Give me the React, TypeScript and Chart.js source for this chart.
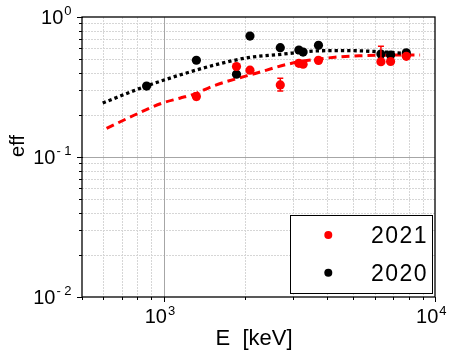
import React, { useEffect, useRef } from 'react';
import { Chart, registerables } from 'chart.js';

Chart.register(...registerables);

// ---- data ----
const energy2020 = [865, 1320, 1855, 2080, 2690, 3150, 3265, 3720, 6320, 6860, 7840];
const eff2020 = [0.321, 0.491, 0.39, 0.731, 0.604, 0.581, 0.562, 0.628, 0.544, 0.535, 0.555];

const energy2021 = [1320, 1855, 2080, 2690, 3150, 3265, 3720, 6320, 6860, 7840];
const eff2021 = [0.27, 0.443, 0.417, 0.327, 0.467, 0.46, 0.49, 0.479, 0.481, 0.524];
const err2021Up = [0.016, 0, 0, 0.038, 0, 0, 0, 0.14, 0, 0];
const err2021Down = [0.013, 0, 0, 0.031, 0, 0, 0, 0.02, 0, 0];

const fitEnergy2020 = [596, 851, 1146, 1542, 2042, 2723, 3604, 4652, 6010, 7943];
const fitEff2020 = [0.243, 0.318, 0.385, 0.454, 0.512, 0.542, 0.572, 0.576, 0.567, 0.549];

const fitEnergy2021 = [616, 781, 984, 1146, 1320, 1500, 2222, 2965, 4276, 5420, 6821, 8810];
const fitEff2021 = [0.16, 0.1995, 0.242, 0.263, 0.285, 0.318, 0.4, 0.467, 0.516, 0.529, 0.534, 0.535];

const xMinorTicks = [500, 600, 700, 800, 900, 2000, 3000, 4000, 5000, 6000, 7000, 8000, 9000];
const xMajorTicks = [1000, 10000];
const xMajorExp = ['3', '4'];
const yMinorTicks = [0.02, 0.03, 0.04, 0.05, 0.06, 0.07, 0.08, 0.09, 0.2, 0.3, 0.4, 0.5, 0.6, 0.7, 0.8, 0.9];
const yMajorTicks = [1, 0.1, 0.01];
const yMajorExp = ['0', '-1', '-2'];

const legendLabels = ['2021', '2020'];
const legendColors = ['#ff0000', '#000000'];

const FONT = '"Liberation Sans", Arial, sans-serif';

function drawPow(ctx: CanvasRenderingContext2D, exp: string, x: number, baseline: number, align: 'center' | 'right', expSpacing: number, raise: number) {
  ctx.font = `20px ${FONT}`;
  const wb = ctx.measureText('10').width;
  ctx.font = `13px ${FONT}`;
  const chars = exp.split('');
  const cw = chars.map((c) => ctx.measureText(c).width);
  const we = cw.reduce((s, w) => s + w, 0) + expSpacing * (chars.length - 1);
  const gap = 1;
  const total = wb + gap + we;
  const sx = align === 'center' ? x - total / 2 : x - total;
  ctx.textAlign = 'left';
  ctx.textBaseline = 'alphabetic';
  ctx.fillStyle = '#000';
  ctx.font = `20px ${FONT}`;
  ctx.fillText('10', sx, baseline);
  ctx.font = `13px ${FONT}`;
  let ex = sx + wb + gap;
  chars.forEach((c, i) => {
    ctx.fillText(c, ex, baseline - raise);
    ex += cw[i] + expSpacing;
  });
}

const decorPlugin = {
  id: 'decor',
  beforeDatasetsDraw(chart: any) {
    const { ctx, chartArea: a, scales } = chart;
    const x = scales.x;
    const y = scales.y;
    ctx.save();
    ctx.lineWidth = 1;
    ctx.strokeStyle = '#d6d6d6';
    ctx.setLineDash([2, 1]);
    xMinorTicks.forEach((v) => {
      if (v <= 500) return;
      const px = Math.round(x.getPixelForValue(v)) + 0.5;
      ctx.beginPath();
      ctx.moveTo(px, a.top);
      ctx.lineTo(px, a.bottom);
      ctx.stroke();
    });
    yMinorTicks.forEach((v) => {
      const py = Math.round(y.getPixelForValue(v)) + 0.5;
      ctx.beginPath();
      ctx.moveTo(a.left, py);
      ctx.lineTo(a.right, py);
      ctx.stroke();
    });
    ctx.setLineDash([]);
    ctx.strokeStyle = '#a6a6a6';
    [1000].forEach((v) => {
      const px = Math.round(x.getPixelForValue(v)) + 0.5;
      ctx.beginPath();
      ctx.moveTo(px, a.top);
      ctx.lineTo(px, a.bottom);
      ctx.stroke();
    });
    [0.1].forEach((v) => {
      const py = Math.round(y.getPixelForValue(v)) + 0.5;
      ctx.beginPath();
      ctx.moveTo(a.left, py);
      ctx.lineTo(a.right, py);
      ctx.stroke();
    });
    ctx.restore();
  },
  afterDatasetsDraw(chart: any) {
    const { ctx, scales } = chart;
    const x = scales.x;
    const y = scales.y;
    ctx.save();
    ctx.strokeStyle = '#ff0000';
    ctx.lineWidth = 1.5;
    energy2021.forEach((e, i) => {
      const up = err2021Up[i];
      const dn = err2021Down[i];
      if (!up && !dn) return;
      const px = x.getPixelForValue(e);
      const pt = y.getPixelForValue(eff2021[i] + up);
      const pb = y.getPixelForValue(eff2021[i] - dn);
      ctx.beginPath();
      ctx.moveTo(px, pt);
      ctx.lineTo(px, pb);
      ctx.moveTo(px - 3, pt);
      ctx.lineTo(px + 3, pt);
      ctx.moveTo(px - 3, pb);
      ctx.lineTo(px + 3, pb);
      ctx.stroke();
    });
    ctx.restore();
  },
  afterDraw(chart: any) {
    const { ctx, chartArea: a, scales } = chart;
    const x = scales.x;
    const y = scales.y;
    ctx.save();
    // frame
    ctx.strokeStyle = '#000';
    ctx.lineWidth = 1.3;
    ctx.strokeRect(a.left, a.top, a.right - a.left, a.bottom - a.top);
    // ticks
    ctx.lineWidth = 1;
    ctx.strokeStyle = '#000';
    xMinorTicks.forEach((v) => {
      const px = Math.round(x.getPixelForValue(v)) + 0.5;
      ctx.beginPath();
      ctx.moveTo(px, a.bottom);
      ctx.lineTo(px, a.bottom + 3);
      ctx.stroke();
    });
    xMajorTicks.forEach((v) => {
      const px = Math.round(x.getPixelForValue(v)) + 0.5;
      ctx.beginPath();
      ctx.moveTo(px, a.bottom);
      ctx.lineTo(px, a.bottom + 5);
      ctx.stroke();
    });
    yMinorTicks.forEach((v) => {
      const py = Math.round(y.getPixelForValue(v)) + 0.5;
      ctx.beginPath();
      ctx.moveTo(a.left, py);
      ctx.lineTo(a.left - 3, py);
      ctx.stroke();
    });
    yMajorTicks.forEach((v) => {
      const py = Math.round(y.getPixelForValue(v)) + 0.5;
      ctx.beginPath();
      ctx.moveTo(a.left + 1, py);
      ctx.lineTo(a.left - 5, py);
      ctx.stroke();
    });
    // tick labels
    xMajorTicks.forEach((v, i) => {
      const px = x.getPixelForValue(v);
      drawPow(ctx, xMajorExp[i], px - 3.7, a.bottom + 26, 'center', 1, 8);
    });
    yMajorTicks.forEach((v, i) => {
      const py = y.getPixelForValue(v);
      drawPow(ctx, yMajorExp[i], a.left - 10.5, py + 7.2, 'right', 3.5, 9);
    });
    // axis titles
    ctx.fillStyle = '#000';
    ctx.font = `22px ${FONT}`;
    ctx.textAlign = 'center';
    ctx.textBaseline = 'alphabetic';
    ctx.fillText('E  [keV]', 254, 345);
    ctx.save();
    ctx.translate(24, 146);
    ctx.rotate(-Math.PI / 2);
    ctx.font = `20px ${FONT}`;
    ctx.fillText('eff', 0, 0);
    ctx.restore();
    // legend
    const bx = a.right - 145;
    const by = a.bottom - 82;
    const bw = 142;
    const bh = 78;
    ctx.fillStyle = '#fff';
    ctx.fillRect(bx, by, bw, bh);
    ctx.strokeStyle = '#000';
    ctx.lineWidth = 1;
    ctx.strokeRect(bx + 0.5, by + 0.5, bw, bh);
    legendLabels.forEach((lab, i) => {
      const cy = by + 20 + i * 37.7;
      ctx.fillStyle = legendColors[i];
      ctx.beginPath();
      ctx.arc(bx + 38.3, cy, 4, 0, Math.PI * 2);
      ctx.fill();
      ctx.fillStyle = '#000';
      ctx.font = `23px ${FONT}`;
      (ctx as any).letterSpacing = '1.5px';
      ctx.textAlign = 'left';
      ctx.fillText(lab, bx + 81, cy + 8);
      (ctx as any).letterSpacing = '0px';
    });
    ctx.restore();
  },
};

export default function App() {
  const ref = useRef<HTMLCanvasElement>(null);
  useEffect(() => {
    const canvas = ref.current;
    if (!canvas) return;
    const chart = new Chart(canvas, {
      type: 'scatter',
      data: {
        datasets: [
          {
            label: '2021',
            data: energy2021.map((e, i) => ({ x: e, y: eff2021[i] })),
            backgroundColor: '#ff0000',
            borderColor: '#ff0000',
            borderWidth: 0,
            pointRadius: 4.6,
            pointHoverRadius: 4.6,
          },
          {
            label: '2020',
            data: energy2020.map((e, i) => ({ x: e, y: eff2020[i] })),
            backgroundColor: '#000000',
            borderColor: '#000000',
            borderWidth: 0,
            pointRadius: 4.6,
            pointHoverRadius: 4.6,
          },
          {
            label: 'fit 2020',
            data: fitEnergy2020.map((e, i) => ({ x: e, y: fitEff2020[i] })),
            showLine: true,
            borderColor: '#000000',
            borderWidth: 3.3,
            borderDash: [3.3, 3],
            borderCapStyle: 'butt',
            pointRadius: 0,
            cubicInterpolationMode: 'monotone',
            fill: false,
          },
          {
            label: 'fit 2021',
            data: fitEnergy2021.map((e, i) => ({ x: e, y: fitEff2021[i] })),
            showLine: true,
            borderColor: '#ff0000',
            borderWidth: 3,
            borderDash: [8, 5],
            borderCapStyle: 'butt',
            pointRadius: 0,
            cubicInterpolationMode: 'monotone',
            fill: false,
          },
        ],
      } as any,
      options: {
        responsive: false,
        animation: false,
        devicePixelRatio: 1,
        layout: { padding: { top: 17, right: 17, left: 0, bottom: 0 } },
        plugins: { legend: { display: false }, tooltip: { enabled: false } },
        scales: {
          x: {
            type: 'logarithmic',
            min: 500,
            max: 10000,
            ticks: { display: false },
            grid: { display: false },
            border: { display: false },
            afterFit: (s: any) => {
              s.height = 55;
            },
          },
          y: {
            type: 'logarithmic',
            min: 0.01,
            max: 1,
            ticks: { display: false },
            grid: { display: false },
            border: { display: false },
            afterFit: (s: any) => {
              s.width = 82;
            },
          },
        },
      } as any,
      plugins: [decorPlugin as any],
    });
    return () => chart.destroy();
  }, []);
  return (
    <div style={{ position: 'absolute', left: 0, top: 0, width: 452, height: 352, background: '#fff' }}>
      <canvas ref={ref} width={452} height={352} style={{ display: 'block', width: 452, height: 352 }} />
    </div>
  );
}
